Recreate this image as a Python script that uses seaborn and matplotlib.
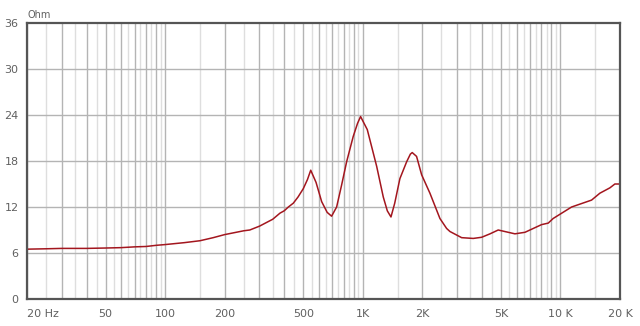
import numpy as np
import pandas as pd
import matplotlib
matplotlib.use("Agg")
import matplotlib.pyplot as plt
import seaborn as sns
from matplotlib.ticker import FixedLocator, NullFormatter

# impedance curve (Hz, Ohm)
freq = [20, 25, 30, 40, 50, 60, 70, 80, 90, 100, 125, 150, 175, 200, 250, 268,
        300, 350, 381, 400, 420, 445, 470, 500, 525, 545, 580, 619, 660, 695,
        737, 780, 828, 894, 940, 974, 1053, 1110, 1175, 1269, 1330, 1388, 1450,
        1540, 1666, 1740, 1778, 1870, 1984, 2185, 2455, 2654, 2760, 3162, 3618,
        3990, 4400, 4840, 5880, 6610, 8020, 8670, 9180, 11380, 14360, 15820,
        17780, 18840, 20000]
ohm = [6.5, 6.55, 6.6, 6.6, 6.65, 6.7, 6.8, 6.85, 7.0, 7.1, 7.35, 7.6, 8.0, 8.4,
       8.9, 9.0, 9.5, 10.4, 11.2, 11.5, 12.0, 12.5, 13.3, 14.4, 15.6, 16.8, 15.2,
       12.7, 11.3, 10.8, 12.0, 14.8, 17.9, 21.2, 22.9, 23.8, 22.1, 19.8, 17.3,
       13.3, 11.5, 10.7, 12.5, 15.7, 17.9, 18.9, 19.1, 18.6, 16.2, 13.8, 10.5,
       9.2, 8.8, 8.0, 7.9, 8.05, 8.5, 9.0, 8.5, 8.7, 9.7, 9.9, 10.5, 12.0, 12.9,
       13.8, 14.5, 15.0, 15.0]

xtick_vals = [20, 50, 100, 200, 500, 1000, 2000, 5000, 10000, 20000]
xtick_labels = ["20 Hz", "50", "100", "200", "500", "1K", "2K", "5K", "10 K", "20 K"]
ytick_vals = [0, 6, 12, 18, 24, 30, 36]

df = pd.DataFrame({"freq": freq, "ohm": ohm})

sns.set_theme(style="white")
plt.rcParams['font.family'] = ['DejaVu Sans']

fig = plt.figure(figsize=(6.4, 3.26), dpi=100)
ax = fig.add_axes([27/640, 1-299/326, (620-27)/640, (299-23)/326])
ax.set_xscale("log")
ax.set_xlim(20, 20000)
ax.set_ylim(0, 36)

# grid lines: medium at integer multiples, light at half steps
medium = []
light = []
for dec in [10, 100, 1000, 10000]:
    for m in range(2, 11):
        v = m * dec
        if 20 <= v <= 20000:
            medium.append(v)
    for m in [1.5] + [2.5 + k for k in range(8)]:
        v = m * dec
        if 20 <= v <= 20000:
            light.append(v)
for v in light:
    ax.axvline(v, color="#dedede", lw=1.0, zorder=1)
for v in medium:
    ax.axvline(v, color="#b4b4b4", lw=1.0, zorder=1)
for v in ytick_vals[1:-1]:
    ax.axhline(v, color="#b4b4b4", lw=1.0, zorder=1)

sns.lineplot(data=df, x="freq", y="ohm", ax=ax, color="#a3161e", lw=1.1, zorder=3)

ax.xaxis.set_major_locator(FixedLocator(xtick_vals))
ax.xaxis.set_minor_locator(FixedLocator([]))
ax.xaxis.set_minor_formatter(NullFormatter())
ax.set_xticks(xtick_vals)
ax.set_xticklabels(xtick_labels)
labs = ax.get_xticklabels()
labs[0].set_horizontalalignment("left")
ax.set_yticks(ytick_vals)
ax.set_yticklabels([str(v) for v in ytick_vals])
ax.tick_params(axis="both", length=0, labelsize=8, labelcolor="#606060")
ax.tick_params(axis="x", pad=7)
ax.tick_params(axis="y", pad=6)
ax.set_xlabel("")
ax.set_ylabel("")
ax.grid(False)
for s in ax.spines.values():
    s.set_color("#555555")
    s.set_linewidth(1.6)
    s.set_zorder(4)

fig.text(27/640, 1-15/326, "Ohm", fontsize=7, color="#606060", ha="left", va="center")

fig.savefig("out.png", dpi=100)
